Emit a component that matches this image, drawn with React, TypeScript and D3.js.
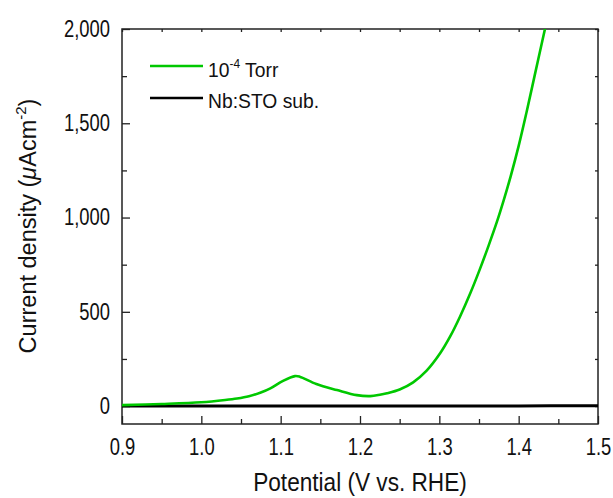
import React, { useEffect, useRef } from 'react';
import * as d3 from 'd3';

// 10^-4 Torr film
const potential = [0.9, 0.95, 1.0, 1.03, 1.045, 1.06, 1.075, 1.087, 1.103, 1.118, 1.124, 1.145, 1.171, 1.196, 1.213, 1.225, 1.234, 1.25, 1.267, 1.284, 1.301, 1.3135, 1.326, 1.339, 1.351, 1.362, 1.372, 1.381, 1.39, 1.4, 1.41, 1.42, 1.43, 1.44];
const torrCurrent = [5, 11, 20, 32, 40, 52, 72, 94, 134, 159, 156, 117, 85, 58, 53, 60, 68, 88, 126, 188, 280, 368, 474, 598, 725, 850, 970, 1090, 1220, 1380, 1560, 1750, 1940, 2130];

// bare Nb:STO substrate
const subPotential = [0.9, 1.0, 1.1, 1.2, 1.3, 1.4, 1.5];
const subCurrent = [0, 0, 0, 0, 0, 1, 2];

const xTicks = [0.9, 1.0, 1.1, 1.2, 1.3, 1.4, 1.5];
const xMinor = [0.95, 1.05, 1.15, 1.25, 1.35, 1.45];
const yTicks = [0, 500, 1000, 1500, 2000];
const yMinor = [250, 750, 1250, 1750];

const W = 613;
const H = 498;
const FONT = '"Liberation Sans", Arial, sans-serif';

const App = () => {
  const svgRef = useRef<SVGSVGElement>(null);

  useEffect(() => {
    const svg = d3.select(svgRef.current);
    svg.selectAll('*').remove();

    const margin = { top: 29, right: 15, bottom: 74, left: 122 };
    const x = d3.scaleLinear().domain([0.9, 1.5]).range([margin.left, W - margin.right]);
    const y = d3.scaleLinear().domain([-95, 2000]).range([H - margin.bottom, margin.top]);

    const defs = svg.append('defs');
    defs.append('clipPath').attr('id', 'plotclip')
      .append('rect')
      .attr('x', margin.left).attr('y', margin.top)
      .attr('width', W - margin.left - margin.right)
      .attr('height', H - margin.top - margin.bottom);

    const styleAxis = (g, sx, xAttr?) => {
      g.attr('color', '#222').attr('font-family', FONT).attr('font-size', 23);
      g.select('.domain').remove();
      g.selectAll('line').attr('stroke-width', 1.3);
      g.selectAll('text').attr('fill', '#111').attr('transform', `scale(${sx},1)`);
      if (xAttr !== undefined) g.selectAll('text').attr('x', xAttr);
    };

    // bottom axis: labels + major ticks, minor ticks
    svg.append('g')
      .attr('transform', `translate(0,${H - margin.bottom})`)
      .call(d3.axisBottom(x).tickValues(xTicks).tickFormat(d3.format('.1f')).tickSizeInner(-8).tickSizeOuter(0).tickPadding(15))
      .call(g => styleAxis(g, 0.8));
    svg.append('g')
      .attr('transform', `translate(0,${H - margin.bottom})`)
      .call(d3.axisBottom(x).tickValues(xMinor).tickFormat(() => '').tickSizeInner(-5).tickSizeOuter(0))
      .call(g => styleAxis(g, 1));

    // left axis
    svg.append('g')
      .attr('transform', `translate(${margin.left},0)`)
      .call(d3.axisLeft(y).tickValues(yTicks).tickFormat(d3.format(',')).tickSizeInner(-8).tickSizeOuter(0).tickPadding(12))
      .call(g => styleAxis(g, 0.8, -15));
    svg.append('g')
      .attr('transform', `translate(${margin.left},0)`)
      .call(d3.axisLeft(y).tickValues(yMinor).tickFormat(() => '').tickSizeInner(-5).tickSizeOuter(0))
      .call(g => styleAxis(g, 1));

    // top and right axes: short inward ticks only
    svg.append('g')
      .attr('transform', `translate(0,${margin.top})`)
      .call(d3.axisTop(x).tickValues([...xTicks, ...xMinor]).tickFormat(() => '').tickSizeInner(-3).tickSizeOuter(0))
      .call(g => styleAxis(g, 1));
    svg.append('g')
      .attr('transform', `translate(${W - margin.right},0)`)
      .call(d3.axisRight(y).tickValues([...yTicks, ...yMinor]).tickFormat(() => '').tickSizeInner(-3).tickSizeOuter(0))
      .call(g => styleAxis(g, 1));

    // frame
    svg.append('rect')
      .attr('x', margin.left).attr('y', margin.top)
      .attr('width', W - margin.left - margin.right)
      .attr('height', H - margin.top - margin.bottom)
      .attr('fill', 'none').attr('stroke', '#222').attr('stroke-width', 1.5);

    const line = d3.line<number>()
      .curve(d3.curveCatmullRom.alpha(0.5));

    const plot = svg.append('g').attr('clip-path', 'url(#plotclip)');

    plot.append('path')
      .attr('d', line.x((_, i) => x(subPotential[i])).y(d => y(d))(subCurrent))
      .attr('fill', 'none').attr('stroke', '#000').attr('stroke-width', 3);

    plot.append('path')
      .attr('d', line.x((_, i) => x(potential[i])).y(d => y(d))(torrCurrent))
      .attr('fill', 'none').attr('stroke', '#00c800').attr('stroke-width', 2.6);

    // legend
    const legend = svg.append('g').attr('font-family', FONT).attr('fill', '#111');
    legend.append('line').attr('x1', 150).attr('x2', 203).attr('y1', 66).attr('y2', 66)
      .attr('stroke', '#00c800').attr('stroke-width', 2.6);
    legend.append('line').attr('x1', 150).attr('x2', 203).attr('y1', 98).attr('y2', 98)
      .attr('stroke', '#000').attr('stroke-width', 2.6);

    const t1 = legend.append('text')
      .attr('transform', 'translate(208,77) scale(0.92,1)')
      .attr('font-size', 21);
    t1.append('tspan').text('10');
    t1.append('tspan').attr('font-size', 13).attr('dy', -9).text('-4');
    t1.append('tspan').attr('dy', 9).text(' Torr');

    legend.append('text')
      .attr('transform', 'translate(208,108) scale(0.92,1)')
      .attr('font-size', 21)
      .text('Nb:STO sub.');

    // axis titles
    svg.append('text')
      .attr('transform', `translate(${(margin.left + W - margin.right) / 2},491) scale(0.87,1)`)
      .attr('text-anchor', 'middle')
      .attr('font-family', FONT).attr('font-size', 26).attr('fill', '#111')
      .text('Potential (V vs. RHE)');

    const yl = svg.append('text')
      .attr('transform', 'translate(36,226) rotate(-90)')
      .attr('text-anchor', 'middle')
      .attr('font-family', FONT).attr('font-size', 23.5).attr('fill', '#111');
    yl.append('tspan').text('Current density (');
    yl.append('tspan').attr('font-style', 'italic').text('\u03bc');
    yl.append('tspan').text('Acm');
    yl.append('tspan').attr('font-size', 15).attr('dy', -10).text('-2');
    yl.append('tspan').attr('dy', 10).text(')');
  }, []);

  return (
    <svg
      ref={svgRef}
      width={W}
      height={H}
      style={{ position: 'absolute', left: 0, top: 0, background: '#fff' }}
    />
  );
};

export default App;
